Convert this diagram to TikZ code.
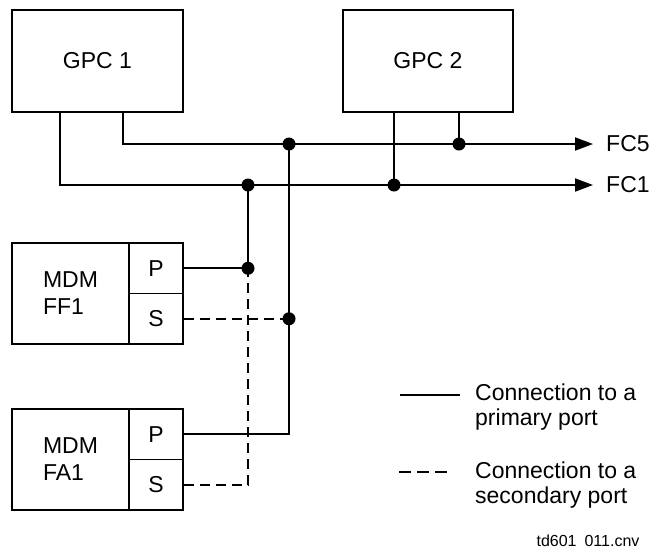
\documentclass[tikz,border=0pt]{standalone}
\usepackage{fontspec}
\setmainfont{Liberation Sans}
\usetikzlibrary{arrows.meta}
\begin{document}
\begin{tikzpicture}[x=1pt,y=-1pt,
  box/.style={draw, line width=1.9pt, inner sep=0pt, font=\fontsize{23}{27}\selectfont},
  wire/.style={line width=1.9pt},
  sec/.style={line width=1.9pt, dash pattern=on 10pt off 6pt},
  legsolid/.style={line width=1.4pt},
  legdash/.style={line width=1.4pt, dash pattern=on 12pt off 6pt},
  jdot/.style={circle, fill, inner sep=0pt, minimum size=13pt},
  arr/.style={-{Triangle[length=18pt,width=13pt]}},
  lbl/.style={font=\fontsize{23}{25}\selectfont, inner sep=0pt}
]
\useasboundingbox (0,0) rectangle (650,550);

% GPC boxes
\node[box, minimum width=171pt, minimum height=102pt] (gpc1) at (97.5,61) {GPC 1};
\node[box, minimum width=170pt, minimum height=102pt] (gpc2) at (428,61) {GPC 2};

% MDM FF1
\node[box, minimum width=117pt, minimum height=101pt, align=left] (ff1) at (70.5,293.5) {MDM\\FF1};
\node[box, minimum width=54pt, minimum height=50.5pt] (ff1p) at (156,268.25) {P};
\node[box, minimum width=54pt, minimum height=50.5pt] (ff1s) at (156,318.75) {S};

% MDM FA1
\node[box, minimum width=117pt, minimum height=101pt, align=left] (fa1) at (70.5,459.5) {MDM\\FA1};
\node[box, minimum width=54pt, minimum height=50.5pt] (fa1p) at (156,434.25) {P};
\node[box, minimum width=54pt, minimum height=50.5pt] (fa1s) at (156,484.75) {S};

% arrow ends and labels
\coordinate (fc5) at (593,144);
\coordinate (fc1) at (593,185);
\node[lbl, anchor=west] (fc5l) at (606,144) {FC5};
\node[lbl, anchor=west] (fc1l) at (606,185) {FC1};

% junction dots
\node[jdot] (d1) at (289,144) {};
\node[jdot] (d2) at (459,144) {};
\node[jdot] (d3) at (248,185) {};
\node[jdot] (d4) at (394,185) {};
\node[jdot] (d5) at (248,268.25) {};
\node[jdot] (d6) at (289,318.75) {};

% buses
\draw[wire, arr] ([xshift=112pt]gpc1.south west) |- (fc5);
\draw[wire, arr] ([xshift=49pt]gpc1.south west) |- (fc1);
\draw[wire] (d2.center) -- (d2 |- gpc2.south);
\draw[wire] (d4.center) -- (d4 |- gpc2.south);

% primary connections
\draw[wire] (ff1p.east) -| (d3.center);
\draw[wire] (d1.center) |- (fa1p.east);

% secondary connections
\draw[sec] (ff1s.east) -- (d6.center);
\draw[sec] (fa1s.east) -| (d5.center);

% legend
\coordinate (l1a) at (400,395);
\coordinate (l1b) at (460,395);
\draw[legsolid] (l1a) -- (l1b);
\node[lbl, anchor=west, align=left] (leg1) at (475,407.5) {Connection to a\\primary port};
\coordinate (l2a) at (399,472);
\coordinate (l2b) at (447,472);
\draw[legdash] (l2a) -- (l2b);
\node[lbl, anchor=west, align=left] (leg2) at (475,485) {Connection to a\\secondary port};

\node[font=\fontsize{16}{18}\selectfont, inner sep=0pt] (fname) at (588,541) {td601\enspace011.cnv};
\end{tikzpicture}
\end{document}
